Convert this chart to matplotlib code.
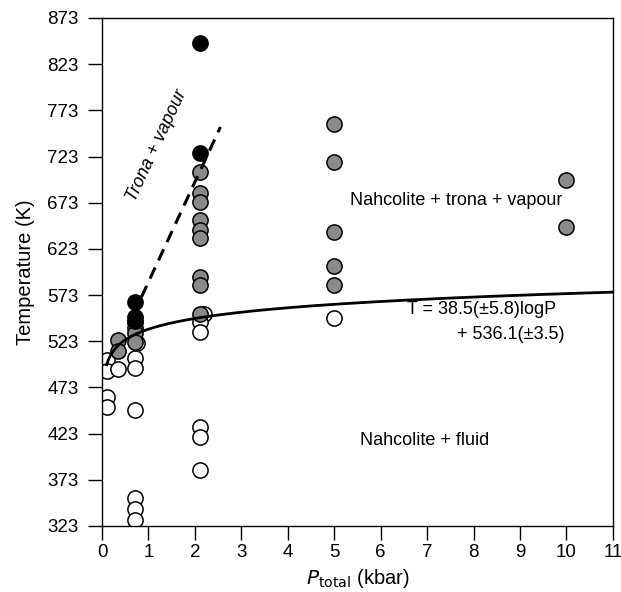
import numpy as np
import matplotlib.pyplot as plt

plt.rcParams['font.family'] = ['Liberation Sans', 'DejaVu Sans']

# open circles: nahcolite + fluid
open_p = [0.1, 0.1, 0.1, 0.1, 0.35, 0.7, 0.7, 0.7, 0.75, 0.7, 0.7, 0.7,
          2.2, 2.1, 2.1, 2.1, 2.1, 2.1, 5.0]
open_t = [503, 491, 463, 452, 493, 505, 494, 449, 521, 353, 341, 330,
          553, 544, 533, 430, 419, 384, 548]

# grey circles: nahcolite + trona + vapour
grey_p = [0.35, 0.35, 0.7, 0.7, 0.7, 0.7,
          2.1, 2.1, 2.1, 2.1, 2.1, 2.1, 2.1, 2.1, 2.1,
          5.0, 5.0, 5.0, 5.0, 5.0, 10.0, 10.0]
grey_t = [524, 512, 544, 537, 532, 522,
          706, 683, 674, 654, 643, 635, 593, 584, 553,
          758, 717, 641, 605, 584, 698, 647]

# black circles: trona + vapour
black_p = [0.7, 0.7, 0.7, 2.1, 2.1]
black_t = [566, 549, 545, 727, 846]

# boundary trona / trona + vapour (dashed)
dash_p = [0.85, 2.55]
dash_t = [571, 755]

# fitted boundary T = a*logP + b
fit_a = 38.5
fit_b = 536.1

yticks = [323, 373, 423, 473, 523, 573, 623, 673, 723, 773, 823, 873]
xticks = list(range(0, 12))

fig = plt.figure(figsize=(6.21, 5.92), dpi=100)
ax = fig.add_axes([0.1643, 0.1115, 0.8227, 0.8581])

ms = 120
ax.scatter(open_p, open_t, s=ms, facecolor='white', edgecolor='black', linewidth=1.1, zorder=2)
ax.scatter(grey_p, grey_t, s=ms, facecolor='#8a8a8a', edgecolor='black', linewidth=1.1, zorder=3)
ax.scatter(black_p, black_t, s=ms, facecolor='black', edgecolor='black', linewidth=1.1, zorder=4)

p = np.linspace(0.1, 11, 400)
ax.plot(p, fit_a * np.log10(p) + fit_b, color='black', linewidth=2, zorder=5)
ax.plot(dash_p, dash_t, color='black', linewidth=2.2, linestyle=(0, (4, 2.6)), zorder=5)

fs = 13
ax.text(5.34, 675, 'Nahcolite + trona + vapour', fontsize=fs, va='center', ha='left')
ax.text(6.57, 557, 'T = 38.5(±5.8)logP', fontsize=fs, va='center', ha='left')
ax.text(9.95, 530, '+ 536.1(±3.5)', fontsize=fs, va='center', ha='right')
ax.text(5.55, 416, 'Nahcolite + fluid', fontsize=fs, va='center', ha='left')
ax.text(1.18, 735, 'Trona + vapour', fontsize=fs, va='center', ha='center',
        rotation=65, style='italic')

ax.set_xlim(0, 11)
ax.set_ylim(323, 873)
ax.set_xticks(xticks)
ax.set_yticks(yticks)
ax.tick_params(direction='out', length=10, width=1, labelsize=13.5)
ax.tick_params(axis='x', pad=3)
ax.tick_params(axis='y', pad=7)
ax.set_xlabel(r'$P_{\mathrm{total}}$ (kbar)', fontsize=14.5, labelpad=4)
ax.set_ylabel('Temperature (K)', fontsize=14.5, labelpad=9)
for s in ax.spines.values():
    s.set_linewidth(1)

fig.savefig('out.png', dpi=100)
